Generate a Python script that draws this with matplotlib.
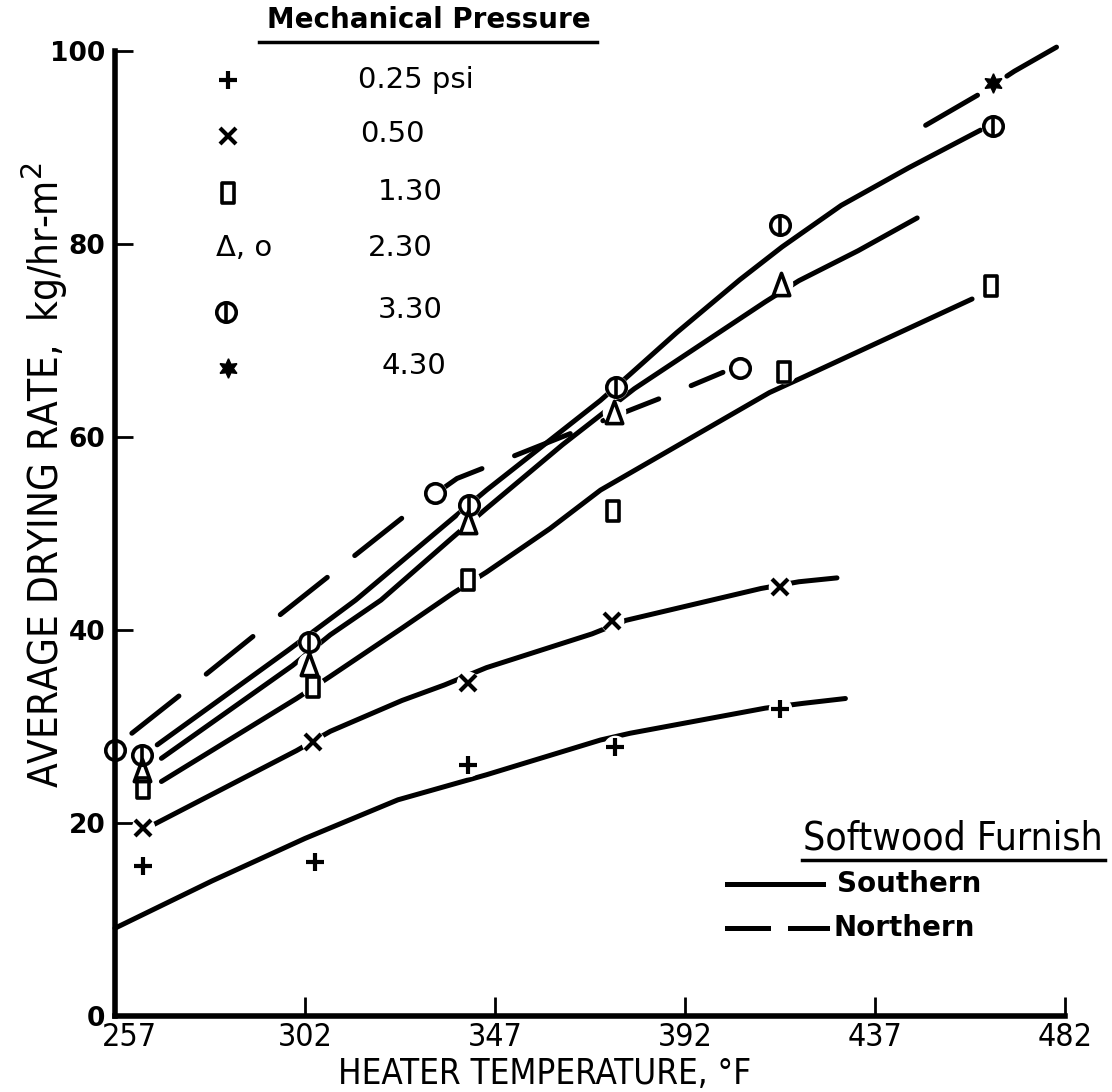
import numpy as np
import matplotlib
matplotlib.use('Agg')
import matplotlib.pyplot as plt
import matplotlib.transforms as mtrans
from matplotlib.path import Path
from matplotlib.lines import Line2D

# axis ticks
temp_ticks = [257, 302, 347, 392, 437, 482]
rate_ticks = [0, 20, 40, 60, 80, 100]

# measured points (heater temp F, drying rate kg/hr-m2), one pair per pressure
t_025 = [263.7, 304.4, 340.6, 375.5, 414.5]
r_025 = [15.5, 16.0, 26.0, 27.9, 31.8]

t_050 = [263.7, 304.0, 340.6, 374.6, 414.5]
r_050 = [19.5, 28.4, 34.5, 40.9, 44.5]

t_130 = [263.7, 304.0, 340.6, 374.9, 415.4, 464.6]
r_130 = [23.6, 34.1, 45.2, 52.3, 66.7, 75.6]

t_230s = [263.5, 303.0, 340.6, 375.3, 414.8]      # triangles, southern
r_230s = [25.5, 36.5, 51.2, 62.6, 75.9]

t_230n = [257.0, 332.8, 405.0]                    # circles, northern
r_230n = [27.6, 54.2, 67.2]

t_330 = [263.5, 303.0, 340.9, 375.7, 414.6, 465.0]
r_330 = [27.0, 38.8, 53.0, 65.2, 82.0, 92.2]

t_430 = [465.0]
r_430 = [96.7]

# hand drawn curves
c025_t = [257, 280, 302, 324, 345, 372, 379, 411, 420, 430]
c025_r = [9.1, 14.0, 18.4, 22.4, 25.0, 28.6, 29.3, 31.9, 32.4, 32.9]

c050_t = [266, 300, 308, 325, 335, 345, 370, 378, 410, 419, 428]
c050_r = [19.8, 27.5, 29.5, 32.7, 34.3, 36.1, 39.6, 41.0, 44.3, 45.0, 45.4]

c130_t = [268, 300, 308, 325, 337, 345, 360, 372, 412, 420, 460]
c130_r = [24.3, 32.9, 35.2, 40.2, 43.8, 46.0, 50.5, 54.5, 64.6, 66.2, 74.3]

c230s_t = [268, 299, 308, 320, 337, 345, 363, 380, 411, 419, 433, 447]
c230s_r = [26.7, 36.3, 39.5, 43.1, 49.6, 52.6, 59.2, 65.0, 74.0, 76.2, 79.3, 82.7]

c330_t = [267, 298, 306, 314, 336, 345, 372, 379, 390, 405, 415, 429, 445, 462]
c330_r = [28.1, 37.9, 40.5, 43.1, 51.2, 54.5, 63.8, 66.5, 70.8, 76.3, 79.7, 84.0, 87.9, 91.8]

# northern (dashed)
c230n_t = [261, 274, 293, 310, 327, 338, 349, 368, 389, 401]
c230n_r = [29.3, 33.8, 40.5, 46.4, 52.3, 55.7, 57.6, 60.9, 64.5, 66.7]

c430_t = [449, 462, 470, 480]
c430_r = [92.3, 95.6, 97.9, 100.4]

NARROW = dict(family='DejaVu Sans', stretch='condensed')
LW = 3.6

rect = Path([(-0.32, -0.5), (0.32, -0.5), (0.32, 0.5), (-0.32, 0.5), (-0.32, -0.5)],
            [Path.MOVETO, Path.LINETO, Path.LINETO, Path.LINETO, Path.CLOSEPOLY])
tri = Path([(0, 0.5), (-0.37, -0.5), (0.37, -0.5), (0, 0.5)],
           [Path.MOVETO, Path.LINETO, Path.LINETO, Path.CLOSEPOLY])

fig = plt.figure(figsize=(11.12, 10.92), dpi=100)
ax = fig.add_axes([0.1034, 0.0696, 0.8543, 0.8837])

# curves
for t, r in [(c025_t, c025_r), (c050_t, c050_r), (c130_t, c130_r),
             (c230s_t, c230s_r), (c330_t, c330_r)]:
    ax.plot(t, r, color='k', lw=LW, solid_capstyle='round', solid_joinstyle='round',
            zorder=2, clip_on=False)
for t, r in [(c230n_t, c230n_r), (c430_t, c430_r)]:
    ax.plot(t, r, color='k', lw=LW, dashes=(12, 7), dash_capstyle='round',
            zorder=2, clip_on=False)

# white disc behind each marker so the curves break at the points
all_t = t_025 + t_050 + t_130 + t_230s + t_230n + t_330 + t_430
all_r = r_025 + r_050 + r_130 + r_230s + r_230n + r_330 + r_430
ax.plot(all_t, all_r, ls='none', marker='o', ms=16, mfc='white', mec='white',
        zorder=2.2, clip_on=False)

mk = dict(ls='none', color='k', zorder=3, clip_on=False)
ax.plot(t_025, r_025, marker='+', ms=13, mew=3, **mk)
ax.plot(t_050, r_050, marker='x', ms=11, mew=3, **mk)
ax.plot(t_130, r_130, marker=rect, ms=14, mew=2.6, mfc='none', **mk)
ax.plot(t_230s, r_230s, marker=tri, ms=16, mew=2.6, mfc='none', **mk)
ax.plot(t_230n, r_230n, marker='o', ms=14, mew=2.6, mfc='none', **mk)
ax.plot(t_330, r_330, marker='o', ms=14, mew=2.6, mfc='none', **mk)
ax.plot(t_330, r_330, marker='|', ms=14, mew=2.6, **mk)
ax.plot(t_430, r_430, marker=(6, 1, 0), ms=14, **mk)

ax.set_xlim(257, 482)
ax.set_ylim(0, 100)
ax.set_xticks(temp_ticks)
ax.set_yticks(rate_ticks)
ax.set_xticklabels([str(v) for v in temp_ticks], fontsize=23, **NARROW)
ax.set_yticklabels([str(v) for v in rate_ticks], family='DejaVu Sans',
                   fontweight='bold', fontsize=19)
ax.tick_params(axis='x', direction='in', length=14, width=2, pad=4)
ax.tick_params(axis='y', direction='in', length=13, width=2, pad=7)
for s in ['top', 'right']:
    ax.spines[s].set_visible(False)
for s in ['left', 'bottom']:
    ax.spines[s].set_linewidth(4)

# first x label sits a little right of the corner, as in the original
lab0 = ax.get_xticklabels()[0]
lab0.set_transform(lab0.get_transform() +
                   mtrans.ScaledTranslation(14 / 100, 0, fig.dpi_scale_trans))

fx = lambda px: px / 1112
fy = lambda py: 1 - py / 1092

fig.text(fx(45), fy(475), 'AVERAGE DRYING RATE,  kg/hr-m$^2$', rotation=90,
         ha='center', va='center', fontsize=29, **NARROW)
fig.text(fx(545), fy(1074), 'HEATER TEMPERATURE, \u00b0F', ha='center', va='center',
         fontsize=25, **NARROW)

# pressure key
fig.text(fx(429), fy(20), 'Mechanical Pressure', ha='center', va='center',
         fontsize=20, fontweight='bold')
fig.add_artist(Line2D([fx(259), fx(597)], [fy(42), fy(42)], color='k', lw=2.5))
key_rows = [('0.25 psi', 358, 80), ('0.50', 360, 134), ('1.30', 378, 192),
            ('2.30', 368, 248), ('3.30', 378, 310), ('4.30', 382, 366)]
for lab, x, y in key_rows:
    fig.text(fx(x), fy(y), lab, ha='left', va='center', fontsize=21)
kx = fx(228)
km = dict(color='k', transform=fig.transFigure, ls='none')
fig.add_artist(Line2D([kx], [fy(80)], marker='+', ms=13, mew=3, **km))
fig.add_artist(Line2D([kx], [fy(136)], marker='x', ms=11, mew=3, **km))
fig.add_artist(Line2D([kx], [fy(193)], marker=rect, ms=14, mew=2.6, mfc='none', **km))
fig.add_artist(Line2D([fx(226)], [fy(312)], marker='o', ms=14, mew=2.6, mfc='none', **km))
fig.add_artist(Line2D([fx(226)], [fy(312)], marker='|', ms=14, mew=2.6, **km))
fig.add_artist(Line2D([kx], [fy(368)], marker=(6, 1, 0), ms=14, **km))
fig.text(fx(216), fy(248), '\u0394, o', ha='left', va='center', fontsize=21)

# furnish key
fig.text(fx(953), fy(838), 'Softwood Furnish', ha='center', va='center',
         fontsize=28, **NARROW)
fig.add_artist(Line2D([fx(802), fx(1105)], [fy(860), fy(860)], color='k', lw=2.5))
fig.add_artist(Line2D([fx(727), fx(823)], [fy(884), fy(884)], color='k', lw=LW))
fig.add_artist(Line2D([fx(727), fx(768)], [fy(928), fy(928)], color='k', lw=LW))
fig.add_artist(Line2D([fx(790), fx(827)], [fy(928), fy(928)], color='k', lw=LW))
fig.text(fx(837), fy(884), 'Southern', ha='left', va='center', fontsize=20,
         fontweight='bold')
fig.text(fx(833), fy(928), 'Northern', ha='left', va='center', fontsize=20,
         fontweight='bold')

fig.savefig('out.png', dpi=100)
